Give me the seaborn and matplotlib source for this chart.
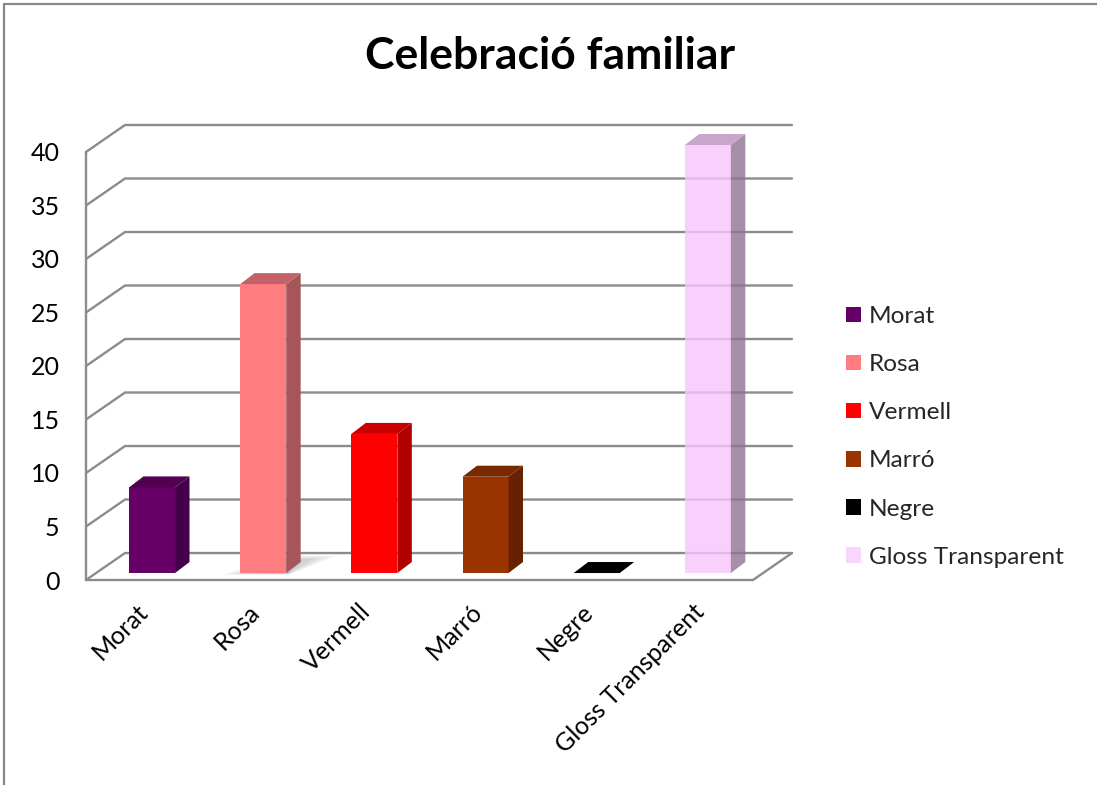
import matplotlib
matplotlib.use("Agg")
import matplotlib.pyplot as plt
import matplotlib.transforms as mtransforms
from matplotlib.patches import Polygon, Patch
from matplotlib.lines import Line2D
import pandas as pd
import seaborn as sns

# ---- data -------------------------------------------------------------
categories = ["Morat", "Rosa", "Vermell", "Marró", "Negre", "Gloss Transparent"]
values = [8, 27, 13, 9, 0, 40]
y_ticks = [0, 5, 10, 15, 20, 25, 30, 35, 40]
title = "Celebració familiar"

# ---- colours (front / side / top faces) -------------------------------
front_colors = ["#660066", "#FF7C80", "#FF0000", "#993300", "#000000", "#F8C4FE"]
side_colors = ["#44004A", "#A65558", "#B00000", "#662200", "#000000", "#927392"]
top_colors = ["#520052", "#C26268", "#C80000", "#7A2800", "#000000", "#BB90BF"]
face_alpha = [1, 1, 1, 1, 1, 0.8]
casts_shadow = [False, True, False, False, False, False]
legend_colors = ["#660066", "#FF7C80", "#FF0000", "#993300", "#000000", "#FAD5FF"]
grid_color = "#8C8C8C"

# ---- oblique projection parameters (data units) -----------------------
WALL_DX, WALL_DY = 0.351, 2.52   # depth of the back wall
BAR_DX, BAR_DY = 0.094, 0.65     # bars stand a little behind the front plane
SIDE_DX, SIDE_DY = 0.13, 1.03    # depth of each bar
BAR_WIDTH = 0.414
Y_MAX = 40

sns.set_theme(style="white")
plt.rcParams["font.family"] = ["Lato", "DejaVu Sans"]

W, H = 1097, 785
fig = plt.figure(figsize=(W / 100, H / 100), dpi=100)
fig.patch.set_facecolor("white")

left, right, bottom, top = 86, 792, 580, 125
ax = fig.add_axes([left / W, 1 - bottom / H, (right - left) / W, (bottom - top) / H])
for s in ax.spines.values():
    s.set_visible(False)

# front faces of the bars
df = pd.DataFrame({"color": categories, "count": values})
sns.barplot(data=df, x="color", y="count", hue="color", order=categories,
            hue_order=categories, palette=dict(zip(categories, front_colors)),
            saturation=1, width=BAR_WIDTH, legend=False, ax=ax, zorder=3)

x0 = -0.5
x_front_end = len(categories) - 0.5
x_end = x_front_end + WALL_DX
ax.set_xlim(x0, x_end)
ax.set_ylim(0, Y_MAX + WALL_DY)

# back wall gridlines with their diagonal connectors to the front plane
for v in y_ticks:
    ax.plot([x0, x0 + WALL_DX, x_end], [v, v + WALL_DY, v + WALL_DY],
            color=grid_color, lw=1.7, zorder=1, clip_on=False,
            solid_joinstyle="miter")
# floor front edge and right edge
ax.plot([x0, x_front_end, x_end], [0, 0, WALL_DY],
        color=grid_color, lw=1.7, zorder=1, clip_on=False, solid_joinstyle="miter")
# vertical value axis
ax.plot([x0, x0], [0, Y_MAX], color=grid_color, lw=1.7, zorder=1, clip_on=False)

for i, p in enumerate(ax.patches):
    p.set_x(p.get_x() + BAR_DX)
    p.set_y(BAR_DY)
    p.set_alpha(face_alpha[i])
    p.set_edgecolor("none")
    bx0 = p.get_x()
    bx1 = bx0 + p.get_width()
    by0 = BAR_DY
    by1 = BAR_DY + p.get_height()
    side = Polygon([(bx1, by0), (bx1 + SIDE_DX, by0 + SIDE_DY),
                    (bx1 + SIDE_DX, by1 + SIDE_DY), (bx1, by1)],
                   closed=True, facecolor=side_colors[i], edgecolor="none",
                   alpha=face_alpha[i], zorder=3)
    topf = Polygon([(bx0, by1), (bx1, by1), (bx1 + SIDE_DX, by1 + SIDE_DY),
                    (bx0 + SIDE_DX, by1 + SIDE_DY)],
                   closed=True, facecolor=top_colors[i], edgecolor="none",
                   alpha=face_alpha[i], zorder=3)
    ax.add_patch(side)
    ax.add_patch(topf)
    if casts_shadow[i]:
        # soft floor shadow built from stacked translucent layers
        for k in range(7):
            g = 0.025 * k
            ax.add_patch(Polygon(
                [(bx0 - 0.16 + g * 2.5, by0 - 0.15 + g),
                 (bx1 + 0.02, by0 - 0.15 + g),
                 (bx1 + SIDE_DX + 0.33 - g * 3, by0 + SIDE_DY + 0.6 - g * 4),
                 (bx1 + 0.02, by0 + SIDE_DY + 0.6 - g * 4)],
                closed=True, facecolor="#555555", edgecolor="none",
                alpha=0.07, zorder=2))

ax.set_xlabel("")
ax.set_ylabel("")
ax.set_yticks(y_ticks)
ax.set_yticklabels([str(v) for v in y_ticks])
ax.set_xticks(range(len(categories)))
ax.set_xticklabels(categories, rotation=45, ha="right", rotation_mode="anchor")
ax.tick_params(axis="y", length=0, pad=19, labelsize=18, labelcolor="black")
ax.tick_params(axis="x", length=0, pad=12, labelsize=18, labelcolor="black")
nudge = mtransforms.ScaledTranslation(-5 / 100, -3 / 100, fig.dpi_scale_trans)
for lbl in ax.get_xticklabels():
    lbl.set_transform(lbl.get_transform() + nudge)

# title
fig.text(550 / W, 1 - 56 / H, title, ha="center", va="center",
         fontsize=32, fontweight="bold", color="black")

# legend
handles = [Patch(facecolor=c, edgecolor="none") for c in legend_colors]
fig.legend(handles, categories, loc="upper left",
           bbox_to_anchor=(846 / W, 1 - 306 / H), frameon=False,
           fontsize=17.6, handlelength=0.6, handleheight=0.6,
           handletextpad=0.35, labelspacing=1.11, borderpad=0,
           borderaxespad=0)

# chart frame
fig.add_artist(Line2D([4 / W, 4 / W], [0, 1 - 4 / H], transform=fig.transFigure,
                      color="#878787", lw=1.6))
fig.add_artist(Line2D([4 / W, 1], [1 - 4 / H, 1 - 4 / H], transform=fig.transFigure,
                      color="#878787", lw=1.6))

fig.savefig("out.png", dpi=100, facecolor="white")
